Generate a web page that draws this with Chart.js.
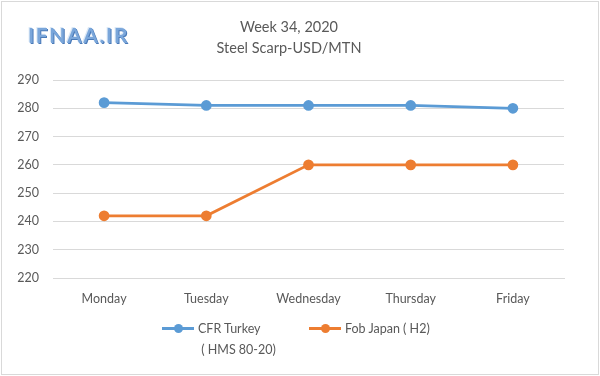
<!DOCTYPE html>
<html lang="en">
<head>
    <meta charset="UTF-8">
    <title>Week 34, 2020</title>
    <style>
        body { margin: 0; background: #fff; font-family: Lato, "Open Sans", sans-serif; }
        .frame { position: relative; width: 596px; height: 372px; margin: 1px; border: 1px solid #d9d9d9; overflow: hidden; }
        #myChart { position: absolute; left: -2px; top: -2px; }
        .logo { position: absolute; left: 26px; top: 20px; font-size: 21px; font-weight: bold; letter-spacing: 1.6px;
                color: #7aa6da; text-shadow: 1px 1px 0 #4a7ab8, -1px -1px 0 #dbe8f6; }
        .title { position: absolute; left: 187px; width: 200px; top: 14px; text-align: center; color: #595959; font-size: 14.5px; line-height: 21px; }
        .legend { position: absolute; top: 316px; color: #595959; font-size: 12.5px; line-height: 21px; }
        .mark { position: absolute; left: 0; top: 9px; width: 32px; height: 3px; }
        .mark::after { content: ""; position: absolute; left: 12px; top: -3px; width: 9px; height: 9px; border-radius: 50%; background: inherit; }
    </style>
</head>
<body>
<div class="frame">
    <canvas id="myChart" width="600" height="376"></canvas>
    <div class="logo">IFNAA.IR</div>
    <div class="title">Week 34, 2020<br>Steel Scarp-USD/MTN</div>
    <div class="legend" style="left:160px"><span class="mark" style="background:#5b9bd5"></span><div style="padding-left:36px">CFR Turkey<br>&nbsp;( HMS 80-20)</div></div>
    <div class="legend" style="left:307px"><span class="mark" style="background:#ed7d31"></span><div style="padding-left:36px">Fob Japan ( H2)</div></div>
</div>
<script src="https://cdn.jsdelivr.net/npm/chart.js@4/dist/chart.umd.min.js"></script>
<script>
const days = ['Monday', 'Tuesday', 'Wednesday', 'Thursday', 'Friday'];
const cfrTurkey = [282, 281, 281, 281, 280];
const fobJapan = [242, 242, 260, 260, 260];
const yTicks = [220, 230, 240, 250, 260, 270, 280, 290];

const ctx = document.getElementById('myChart').getContext('2d');
const myChart = new Chart(ctx, {
    type: 'line',
    data: {
        labels: days,
        datasets: [{
            label: 'CFR Turkey ( HMS 80-20)',
            data: cfrTurkey,
            borderColor: '#5b9bd5',
            backgroundColor: '#5b9bd5',
            borderWidth: 2.75,
            pointRadius: 4,
            pointHoverRadius: 4
        }, {
            label: 'Fob Japan ( H2)',
            data: fobJapan,
            borderColor: '#ed7d31',
            backgroundColor: '#ed7d31',
            borderWidth: 2.75,
            pointRadius: 4,
            pointHoverRadius: 4
        }]
    },
    options: {
        responsive: false,
        animation: false,
        layout: { padding: { top: 80, right: 36, bottom: 0, left: 0 } },
        plugins: { legend: { display: false }, tooltip: { enabled: false } },
        scales: {
            x: {
                offset: true,
                grid: { display: false },
                border: { color: '#d9d9d9' },
                ticks: { color: '#595959', font: { family: 'Lato', size: 12.5 }, padding: 5 },
                afterFit: (s) => { s.height = 98; }
            },
            y: {
                min: yTicks[0],
                max: yTicks[yTicks.length - 1],
                afterBuildTicks: (s) => { s.ticks = yTicks.map(v => ({ value: v })); },
                grid: { color: '#d9d9d9', drawTicks: false },
                border: { display: false },
                ticks: { color: '#595959', font: { family: 'Lato', size: 12.5 }, padding: 14 },
                afterFit: (s) => { s.width = 53; }
            }
        }
    }
});
</script>
</body>
</html>
